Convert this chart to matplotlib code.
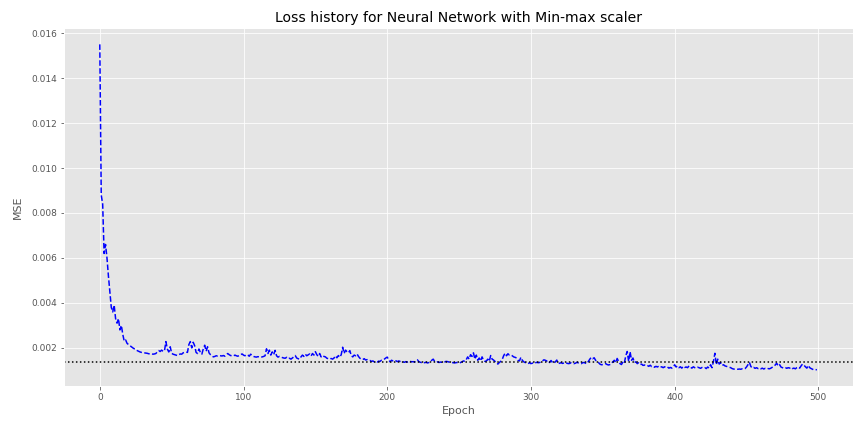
import matplotlib
matplotlib.use("Agg")
import matplotlib.pyplot as plt
import numpy as np

plt.style.use("ggplot")

# Loss values per epoch, in units of 1e-4 (MSE)
loss_e4 = [
    155, 88, 84, 62, 66, 60, 52, 45, 38, 36,
    39, 33, 31, 33, 28, 30, 26, 23, 23.5, 22,
    21.5, 21, 20.5, 20, 19.6, 19.3, 18.8, 18.5, 18.2, 18,
    17.9, 17.8, 17.7, 17.6, 17.4, 17.3, 17.4, 17.2, 17.3, 17.5,
    18.2, 18.8, 18.4, 19.0, 18.5, 18.6, 22.8, 19.5, 18.2, 20.5,
    17.6, 17.2, 17.0, 16.8, 16.6, 17.0, 17.3, 17.2, 17.8, 18.0,
    18.2, 18.0, 21.5, 22.8, 20.0, 22.5, 21.0, 18.0, 17.5, 19.5,
    18.0, 17.2, 19.5, 21.2, 18.5, 20.5, 17.8, 17.0, 16.5, 16.0,
    16.2, 16.5, 16.4, 16.6, 16.5, 16.4, 16.6, 16.3, 16.9, 17.5,
    17.0, 16.6, 16.5, 16.4, 16.8, 16.5, 16.3, 16.6, 17.0, 17.3,
    16.8, 16.5, 17.0, 16.8, 16.3, 17.2, 16.6, 16.2, 16.0, 15.9,
    16.1, 16.0, 15.8, 16.0, 16.2, 16.5, 19.6, 17.5, 19.0, 16.8,
    18.2, 17.0, 18.9, 16.5, 15.9, 16.2, 16.0, 15.7, 15.5, 15.4,
    15.8, 15.2, 15.4, 15.0, 15.5, 16.0, 16.6, 15.5, 15.2, 15.0,
    16.0, 16.8, 16.2, 17.2, 16.5, 16.9, 17.3, 16.4, 17.5, 16.8,
    18.3, 17.0, 16.2, 17.5, 16.0, 16.6, 16.2, 16.0, 15.4, 15.2,
    15.0, 15.3, 15.0, 15.5, 16.5, 15.6, 16.6, 15.8, 17.0, 20.3,
    17.5, 19.0, 18.3, 17.8, 18.8, 16.5, 16.0, 16.8, 16.5, 17.3,
    16.2, 15.4, 15.0, 14.8, 15.2, 14.6, 14.8, 14.5, 14.4, 14.0,
    14.2, 13.8, 14.0, 13.7, 14.1, 14.0, 14.5, 14.6, 15.0, 15.5,
    15.9, 14.8, 13.8, 14.5, 14.2, 14.0, 14.3, 13.9, 14.2, 14.0,
    14.1, 13.8, 13.6, 13.9, 13.7, 14.0, 14.1, 13.8, 13.9, 13.7,
    14.2, 14.7, 13.9, 13.6, 13.5, 13.7, 13.4, 13.6, 13.3, 13.5,
    14.0, 14.5, 15.0, 14.0, 13.6, 13.8, 13.5, 13.7, 13.6, 13.9,
    13.8, 14.0, 13.9, 13.7, 13.6, 13.5, 13.4, 13.3, 13.5, 13.4,
    13.2, 13.5, 13.8, 14.2, 14.0, 14.8, 16.0, 15.0, 17.0, 16.2,
    17.8, 15.0, 16.8, 14.5, 15.5, 14.2, 16.0, 14.5, 14.0, 14.2,
    15.0, 14.0, 16.6, 15.0, 14.6, 14.0, 13.5, 12.8, 13.5, 14.0,
    14.8, 16.5, 17.6, 16.5, 17.4, 16.8, 16.9, 16.5, 16.0, 15.8,
    15.5, 14.5, 14.2, 15.8, 14.5, 13.8, 13.5, 13.2, 13.0, 13.4,
    13.0, 13.2, 13.5, 13.3, 13.6, 13.4, 13.5, 13.8, 14.2, 14.7,
    14.5, 14.2, 13.3, 13.6, 14.4, 13.5, 13.2, 13.8, 14.6, 13.0,
    13.2, 13.4, 13.1, 13.3, 13.5, 13.2, 13.0, 13.1, 13.4, 13.2,
    13.0, 13.2, 13.6, 13.3, 13.1, 13.0, 13.4, 13.5, 13.2, 13.0,
    14.0, 15.0, 15.8, 15.2, 15.6, 14.5, 14.0, 13.5, 12.8, 12.5,
    12.6, 12.8, 13.0, 12.6, 12.4, 12.6, 13.2, 13.8, 14.5, 13.4,
    15.3, 14.0, 13.0, 12.6, 13.8, 13.2, 16.5, 18.4, 14.0, 18.3,
    14.5, 15.5, 13.5, 13.8, 13.0, 13.4, 12.6, 12.8, 12.2, 12.4,
    12.0, 12.2, 11.8, 12.3, 11.7, 11.9, 11.4, 11.8, 11.5, 11.9,
    11.4, 11.6, 11.2, 11.6, 11.2, 11.5, 11.0, 11.3, 11.0, 11.4,
    12.5, 11.5, 12.0, 11.2, 11.6, 11.0, 11.8, 11.3, 11.5, 11.2,
    12.0, 11.4, 11.0, 11.6, 11.2, 11.0, 11.4, 11.2, 10.9, 11.3,
    11.0, 11.2, 10.8, 11.5, 11.0, 12.5, 11.2, 14.0, 17.6, 12.5,
    15.0, 12.8, 13.5, 12.2, 12.5, 12.0, 11.8, 11.6, 11.4, 11.2,
    10.8, 10.6, 10.5, 10.6, 10.5, 10.6, 10.5, 10.7, 10.6, 10.8,
    11.5, 12.5, 13.6, 11.8, 11.0, 11.3, 10.9, 11.2, 10.8, 11.1,
    10.7, 11.0, 10.6, 10.9, 10.6, 10.8, 10.7, 11.0, 11.4, 11.8,
    12.4, 13.2, 12.0, 12.6, 11.5, 11.2, 11.0, 11.3, 10.9, 11.2,
    11.0, 11.4, 10.8, 11.0, 10.7, 11.2, 11.5, 11.0, 12.0, 12.8,
    12.3, 11.6, 11.0, 12.2, 11.2, 10.8, 10.5, 10.2, 10.3, 10.3,
]
reference_mse = 0.00138

loss = np.array(loss_e4) * 1e-4
epochs = np.arange(len(loss))

fig = plt.figure(figsize=(12, 6), dpi=72)
ax = fig.add_subplot(111)
fig.subplots_adjust(left=0.074, right=0.987, top=0.935, bottom=0.106)

ax.plot(epochs, loss, "b--", linewidth=1.5)
ax.axhline(reference_mse, color="black", linestyle=":", linewidth=1.5)

ax.set_title("Loss history for Neural Network with Min-max scaler", fontsize=14, color="black")
ax.set_xlabel("Epoch", fontsize=11)
ax.set_ylabel("MSE", fontsize=11)
ax.yaxis.labelpad = 8
ax.tick_params(labelsize=9)

fig.savefig("out.png", dpi=72)
